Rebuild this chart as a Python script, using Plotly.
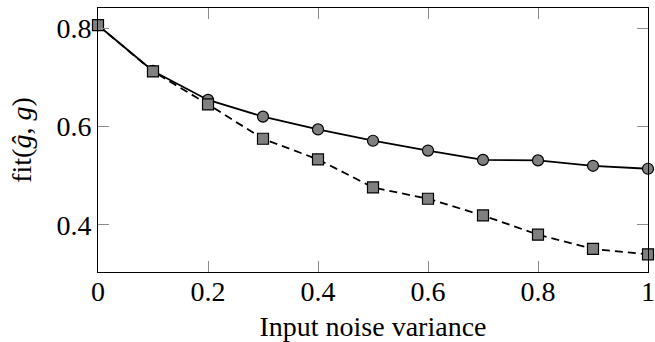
import plotly.graph_objects as go

noise = [0, 0.1, 0.2, 0.3, 0.4, 0.5, 0.6, 0.7, 0.8, 0.9, 1.0]
fit_circle = [0.806, 0.713, 0.654, 0.620, 0.594, 0.571, 0.551, 0.532, 0.531, 0.520, 0.514]
fit_square = [0.806, 0.712, 0.645, 0.575, 0.533, 0.476, 0.453, 0.419, 0.380, 0.351, 0.340]
x_ticks = [0, 0.2, 0.4, 0.6, 0.8, 1.0]
x_tick_labels = ["0", "0.2", "0.4", "0.6", "0.8", "1"]
y_ticks = [0.4, 0.6, 0.8]
y_tick_labels = ["0.4", "0.6", "0.8"]

FONT = "Liberation Serif, DejaVu Serif, serif"
FS = 28

fig = go.Figure()
fig.add_trace(go.Scatter(
    x=noise, y=fit_circle, mode="lines+markers",
    line=dict(color="black", width=1.8),
    marker=dict(symbol="circle", size=11, color="#808080",
                line=dict(color="black", width=1.2)),
    cliponaxis=False, showlegend=False))
fig.add_trace(go.Scatter(
    x=noise, y=fit_square, mode="lines+markers",
    line=dict(color="black", width=1.8, dash="8px,5px"),
    marker=dict(symbol="square", size=11, color="#808080",
                line=dict(color="black", width=1.2)),
    cliponaxis=False, showlegend=False))

axis_common = dict(
    showgrid=False, zeroline=False, showline=True, linecolor="black", linewidth=1,
    mirror="allticks", ticks="inside", ticklen=11, tickcolor="#8c8c8c", tickwidth=1,
    tickfont=dict(family=FONT, size=FS, color="black"), automargin=False,
)
fig.update_layout(
    width=655, height=342,
    margin=dict(l=98, r=7, t=8, b=70),
    paper_bgcolor="white", plot_bgcolor="white",
    xaxis=dict(range=[0, 1], tickvals=x_ticks, ticktext=x_tick_labels,
               ticklabelstandoff=-6,
               title=dict(text="Input noise variance", font=dict(family=FONT, size=FS, color="black"),
                          standoff=14),
               **axis_common),
    yaxis=dict(range=[0.304, 0.841], tickvals=y_ticks, ticktext=y_tick_labels,
               title=dict(text="fit(<i>ĝ</i>, <i>g</i>)", font=dict(family=FONT, size=FS, color="black"),
                          standoff=16),
               **axis_common),
)
fig.write_html("out.html")
